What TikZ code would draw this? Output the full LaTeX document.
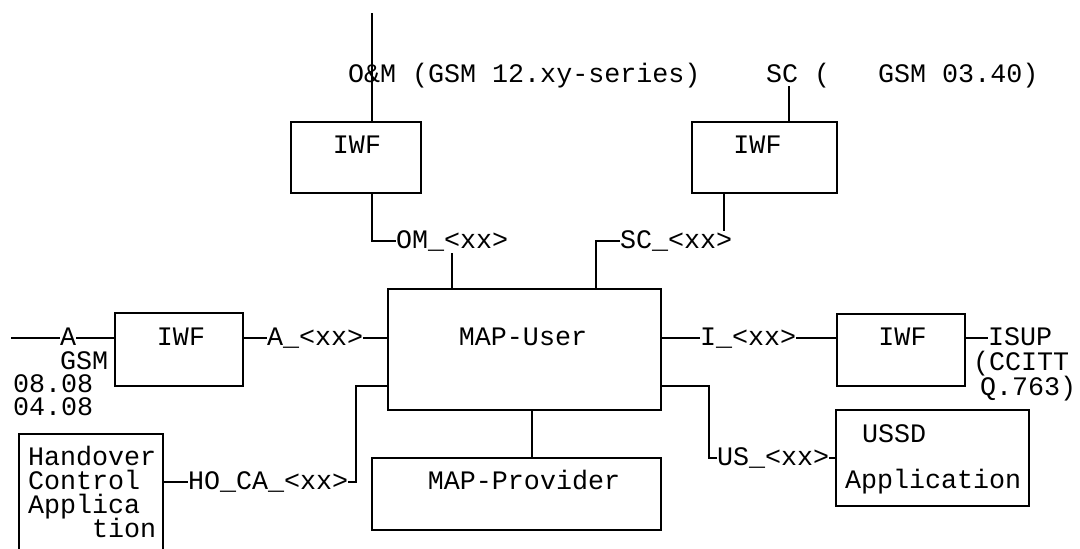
\documentclass[tikz,border=0pt]{standalone}
\usepackage{fontspec}
\setmonofont{Liberation Mono}
\begin{document}
\begin{tikzpicture}[x=1pt,y=-1pt,
  every node/.style={inner sep=0pt, outer sep=0pt, font=\ttfamily\fontsize{26.7}{24}\selectfont, text height=15pt, text depth=0pt},
  txt/.style={anchor=base west},
  stack/.style={anchor=base west, text height=12pt, text depth=0pt},
  ctr/.style={anchor=base},
  box/.style={draw, line width=2pt, rectangle, text height=, text depth=},
  wire/.style={line width=2pt}]
\useasboundingbox (0,0) rectangle (1080,549);

% boxes
\node[box, minimum width=130pt, minimum height=71pt] (omiwf) at (356,157.5) {};
\node[box, minimum width=145pt, minimum height=71pt] (sciwf) at (764.5,157.5) {};
\node[box, minimum width=128pt, minimum height=73pt] (aiwf) at (179,349.5) {};
\node[box, minimum width=273pt, minimum height=121pt] (mapuser) at (524.5,349.5) {};
\node[box, minimum width=128pt, minimum height=72pt] (iiwf) at (901,350) {};
\node[box, minimum width=289pt, minimum height=72pt] (mapprov) at (516.5,494) {};
\node[box, minimum width=193pt, minimum height=96pt] (ussd) at (932.5,458) {};
\begin{scope}
\clip (0,0) rectangle (1080,549);
\node[box, minimum width=144pt, minimum height=136pt] (hoca) at (91,502) {};
\end{scope}

% box texts
\node[ctr] (t1) at (357,153) {IWF};
\node[ctr] (t2) at (757.5,153) {IWF};
\node[ctr] (t3) at (181,345) {IWF};
\node[ctr] (t4) at (902.5,345) {IWF};
\node[ctr] (t5) at (523,345) {MAP-User};
\node[ctr] (t6) at (524,489) {MAP-Provider};
\node[txt] (t7) at (862,442) {USSD};
\node[txt] (t8) at (845,488) {Application};
\node[stack] (h1) at (28,465) {Handover};
\node[stack] (h2) at (28,489) {Control};
\node[stack] (h3) at (28,513) {Applica};
\node[stack] (h4) at (92,537) {tion};

% O&M
\coordinate (omtop) at (372,13);
\draw[wire] (omtop) -- (omtop |- omiwf.north);
\node[txt] (omtxt) at (348,82) {O\&M (GSM 12.xy-series)};
\node[txt] (omlbl) at (396,248) {OM\_<xx>};
\draw[wire] (omtop |- omiwf.south) |- (omlbl.west);
\coordinate (omj) at (452,253);
\draw[wire] (omj) -- (omj |- mapuser.north);

% SC
\node[txt] (sctxt) at (766,82) {SC (\ \ \ GSM 03.40)};
\coordinate (sctop) at (789,86);
\draw[wire] (sctop) -- (sctop |- sciwf.north);
\coordinate (scj) at (724,231);
\draw[wire] (scj |- sciwf.south) -- (scj);
\node[txt] (sclbl) at (620,248) {SC\_<xx>};
\coordinate (scx) at (596,0);
\draw[wire] (scx |- mapuser.north) |- (sclbl.west);

% A
\coordinate (aleft) at (11,337.5);
\node[txt] (alab) at (60,345) {A};
\draw[wire] (aleft) -- (alab.west);
\draw[wire] (alab.east) -- (alab.east -| aiwf.west);
\node[txt] (albl) at (267,345) {A\_<xx>};
\draw[wire] (albl.west -| aiwf.east) -- (albl.west);
\draw[wire] (albl.east) -- (albl.east -| mapuser.west);
\node[stack] (g1) at (60,369) {GSM};
\node[stack] (g2) at (13,392) {08.08};
\node[stack] (g3) at (13,415) {04.08};

% I
\node[txt] (ilbl) at (700,345) {I\_<xx>};
\draw[wire] (ilbl.west -| mapuser.east) -- (ilbl.west);
\draw[wire] (ilbl.east) -- (ilbl.east -| iiwf.west);
\node[txt] (isup1) at (988,345) {ISUP};
\draw[wire] (isup1.west -| iiwf.east) -- (isup1.west);
\node[stack] (isup2) at (973,370) {(CCITT};
\node[stack] (isup3) at (980,395) {Q.763)};

% HO_CA
\coordinate (hox) at (356,386);
\node[txt] (holbl) at (188,489) {HO\_CA\_<xx>};
\draw[wire] (hox -| mapuser.west) -- (hox) |- (holbl.east);
\draw[wire] (holbl.west -| hoca.east) -- (holbl.west);

% US
\coordinate (usx) at (709,386);
\node[txt] (uslbl) at (717,465) {US\_<xx>};
\draw[wire] (usx -| mapuser.east) -- (usx) |- (uslbl.west);
\draw[wire] (uslbl.east) -- (uslbl.east -| ussd.west);

% Provider
\coordinate (pvx) at (532,0);
\draw[wire] (pvx |- mapuser.south) -- (pvx |- mapprov.north);
\end{tikzpicture}
\end{document}
